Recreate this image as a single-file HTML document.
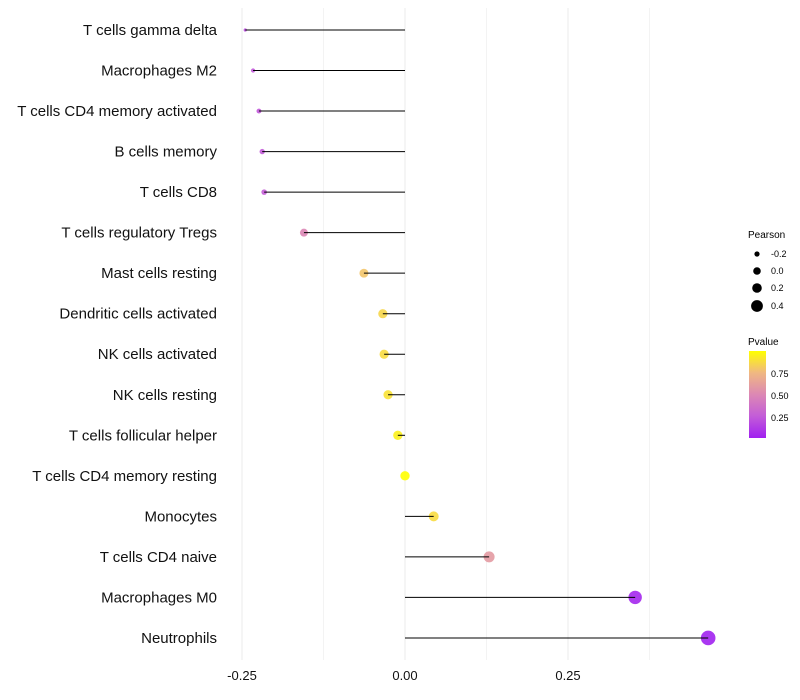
<!DOCTYPE html>
<html><head><meta charset="utf-8"><style>
body{margin:0;background:#fff;font-family:"Liberation Sans",sans-serif}
svg{display:block}
</style></head><body>
<svg id="chart" width="800" height="700">
<defs><linearGradient id="pg" x1="0" y1="1" x2="0" y2="0">
<stop offset="0" stop-color="#A020F0"/><stop offset="0.25" stop-color="#C35CD8"/><stop offset="0.5" stop-color="#DC88B4"/><stop offset="0.75" stop-color="#F0B882"/><stop offset="1" stop-color="#FFFF00"/></linearGradient></defs>
<g id="grid"></g>
<g id="pts"></g>
<g id="marks"></g>
<g id="labels"></g>
<g id="xt"></g>
<g font-size="9">
<text x="748" y="238" font-size="10">Pearson</text>
<circle cx="757" cy="254" r="2.6"/><text x="771" y="257">-0.2</text>
<circle cx="757" cy="271" r="3.8"/><text x="771" y="274">0.0</text>
<circle cx="757" cy="288" r="4.8"/><text x="771" y="291">0.2</text>
<circle cx="757" cy="306" r="5.9"/><text x="771" y="309">0.4</text>
</g>
<g font-size="9">
<text x="748" y="345" font-size="10">Pvalue</text>
<rect x="749" y="351" width="17" height="87" fill="url(#pg)"/>
<text x="771" y="377">0.75</text><text x="771" y="399">0.50</text><text x="771" y="421">0.25</text>
</g>
</svg>
<script>
const categories=["T cells gamma delta","Macrophages M2","T cells CD4 memory activated","B cells memory","T cells CD8","T cells regulatory  Tregs ","Mast cells resting","Dendritic cells activated","NK cells activated","NK cells resting","T cells follicular helper","T cells CD4 memory resting","Monocytes","T cells CD4 naive","Macrophages M0","Neutrophils"];
const pearson=[-0.245,-0.233,-0.224,-0.219,-0.216,-0.155,-0.063,-0.034,-0.032,-0.026,-0.011,0.0,0.044,0.129,0.353,0.465];
const pvalue=[0.2,0.25,0.25,0.26,0.27,0.5,0.8,0.86,0.88,0.9,0.95,1.0,0.88,0.6,0.05,0.03];
const xTicks=[-0.25,0,0.25];
const xTickLabels=["-0.25","0.00","0.25"];
const minorTicks=[-0.125,0.125,0.375];
const NS="http://www.w3.org/2000/svg";
const x=v=>405+v*652;
const y=i=>30+i*40.53;
const sizeKnots=[[-0.245,1.6],[-0.216,2.8],[-0.155,4],[-0.06,4.5],[0,4.7],[0.13,5.5],[0.353,6.7],[0.465,7.3]];
function r(v){if(v<=sizeKnots[0][0])return sizeKnots[0][1];for(let i=1;i<sizeKnots.length;i++){const[a,ra]=sizeKnots[i-1],[b,rb]=sizeKnots[i];if(v<=b)return ra+(rb-ra)*(v-a)/(b-a);}return sizeKnots[sizeKnots.length-1][1];}
const stops=[[160,32,240],[195,92,216],[220,136,180],[240,184,130],[255,255,0]];
function col(p){p=Math.max(0,Math.min(1,(p-0.02)/0.98));const t=p*4,i=Math.min(3,Math.floor(t)),f=t-i;const a=stops[i],b=stops[i+1];return `rgb(${a.map((c,k)=>Math.round(c+(b[k]-c)*f)).join(",")})`;}
function mk(tag,at,par){const e=document.createElementNS(NS,tag);for(const k in at)e.setAttribute(k,at[k]);document.getElementById(par).appendChild(e);return e;}
minorTicks.forEach(v=>{const l=mk("line",{x1:x(v),x2:x(v),y1:8,y2:660,stroke:"#f3f3f3","stroke-width":1},"grid");

});
xTicks.forEach((v,i)=>{const l=mk("line",{x1:x(v),x2:x(v),y1:8,y2:660,stroke:"#ebebeb","stroke-width":1},"grid");


const t=mk("text",{x:x(v),y:680,"text-anchor":"middle","font-size":13,fill:"#111"},"xt");t.textContent=xTickLabels[i];

});
categories.forEach((c,i)=>{
const p=mk("circle",{cx:x(pearson[i]),cy:y(i),r:r(pearson[i]),fill:col(pvalue[i]),"fill-opacity":0.9},"pts");


const s=mk("line",{x1:x(0),x2:x(pearson[i]),y1:y(i),y2:y(i),stroke:"#000","stroke-width":1},"marks");


const t=mk("text",{x:217,y:y(i)+5,"text-anchor":"end","font-size":15,fill:"#111","xml:space":"preserve"},"labels");t.textContent=c;

});
</script>
</body></html>
